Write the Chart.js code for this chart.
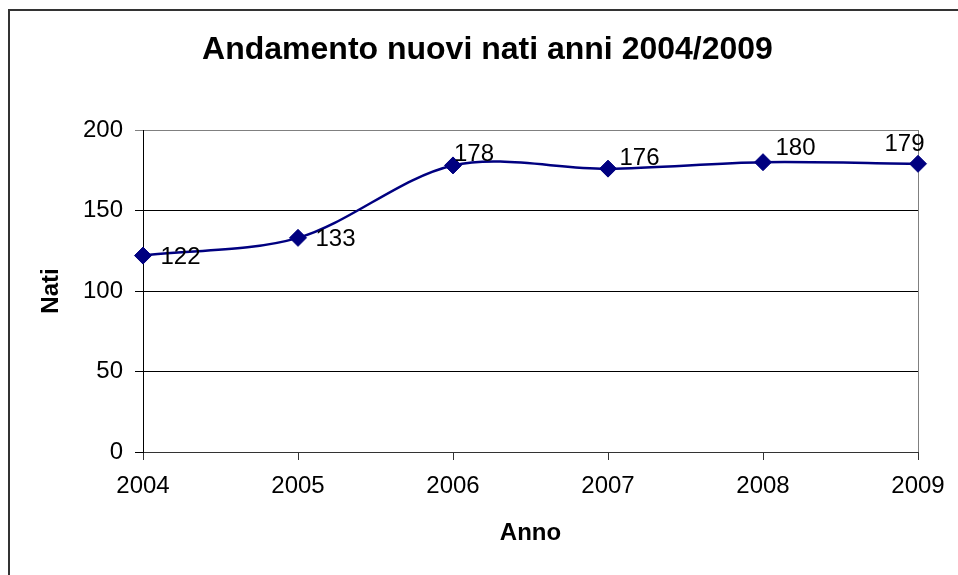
<!DOCTYPE html>
<html>
<head>
<meta charset="utf-8">
<script src="https://cdn.jsdelivr.net/npm/chart.js@4"></script>
<style>
  html, body { margin: 0; padding: 0; background: #ffffff; }
  #wrap { width: 958px; height: 575px; position: relative; }
</style>
</head>
<body>
<div id="wrap"><canvas id="c" width="958" height="575"></canvas></div>
<script>
// ---- data ----
const years = ['2004', '2005', '2006', '2007', '2008', '2009'];
const births = [122, 133, 178, 176, 180, 179];
const yTicks = [0, 50, 100, 150, 200];
const chartTitle = 'Andamento nuovi nati anni 2004/2009';
const xTitle = 'Anno';
const yTitle = 'Nati';

// ---- style ----
const FONT = "'Liberation Sans', Arial, sans-serif";
const NAVY = '#000080';
// per-label placement (text centre offset from its point, left-aligned)
const labelOffsets = [[17.5, -0.5], [17.5, 0], [1, -13], [11.5, -12.5], [12.5, -16], [-33.5, -21]];

const framePlugin = {
  id: 'frame',
  beforeDraw(chart) {
    const ctx = chart.ctx;
    ctx.save();
    ctx.fillStyle = '#ffffff';
    ctx.fillRect(0, 0, chart.width, chart.height);
    ctx.fillStyle = '#333333';
    ctx.fillRect(8, 9, chart.width - 8, 2);
    ctx.fillRect(8, 9, 2, chart.height - 9);
    ctx.restore();
  },
  afterDraw(chart) {
    const ctx = chart.ctx;
    ctx.save();
    ctx.fillStyle = '#000000';
    ctx.font = 'bold 32px ' + FONT;
    ctx.textAlign = 'center';
    ctx.textBaseline = 'alphabetic';
    ctx.fillText(chartTitle, 487.5, 58.5);
    ctx.restore();
  }
};

const labelPlugin = {
  id: 'pointLabels',
  afterDatasetsDraw(chart) {
    const ctx = chart.ctx;
    const meta = chart.getDatasetMeta(0);
    ctx.save();
    ctx.fillStyle = '#000000';
    ctx.font = '24px ' + FONT;
    ctx.textAlign = 'left';
    ctx.textBaseline = 'alphabetic';
    meta.data.forEach((pt, i) => {
      const off = labelOffsets[i] || [10, 0];
      ctx.fillText(String(births[i]), pt.x + off[0], pt.y + off[1] + 8.6);
    });
    ctx.restore();
  }
};

new Chart(document.getElementById('c'), {
  type: 'line',
  data: {
    labels: years,
    datasets: [{
      data: births,
      borderColor: NAVY,
      backgroundColor: NAVY,
      borderWidth: 2.5,
      tension: 0.32,
      pointStyle: 'rectRot',
      pointRadius: 8.5,
      pointBorderWidth: 1,
      pointBackgroundColor: NAVY,
      pointBorderColor: NAVY,
      clip: false
    }]
  },
  options: {
    responsive: false,
    animation: false,
    devicePixelRatio: 1,
    layout: { padding: { left: 0, right: 40, top: 130, bottom: 0 } },
    plugins: {
      legend: { display: false },
      title: { display: false },
      tooltip: { enabled: false }
    },
    scales: {
      x: {
        type: 'category',
        offset: false,
        grid: {
          drawOnChartArea: true,
          color: (c) => (c.index === years.length - 1 ? '#808080' : 'rgba(0,0,0,0)'),
          tickColor: '#333333',
          tickLength: 8,
          lineWidth: 1
        },
        border: { display: true, color: '#333333', width: 1 },
        ticks: {
          color: '#000000',
          font: { family: FONT, size: 24 },
          padding: 12,
          maxRotation: 0,
          autoSkip: false
        },
        title: {
          display: true,
          text: xTitle,
          color: '#000000',
          font: { family: FONT, size: 24, weight: 'bold' },
          padding: { top: 0, bottom: 27 }
        },
        afterFit(scale) { scale.height = 123; }
      },
      y: {
        min: 0,
        max: 200,
        afterBuildTicks(scale) { scale.ticks = yTicks.map(v => ({ value: v })); },
        grid: {
          color: (c) => (c.tick && c.tick.value === 200 ? '#808080' : '#000000'),
          tickColor: (c) => (c.tick && c.tick.value === 200 ? '#808080' : '#000000'),
          tickLength: 8,
          lineWidth: 1
        },
        border: { display: true, color: '#000000', width: 1 },
        ticks: {
          color: '#000000',
          font: { family: FONT, size: 24 },
          padding: 12
        },
        title: {
          display: true,
          text: yTitle,
          color: '#000000',
          font: { family: FONT, size: 24, weight: 'bold' },
          padding: { top: 37, bottom: 0 }
        },
        afterFit(scale) { scale.width = 143; }
      }
    }
  },
  plugins: [framePlugin, labelPlugin]
});
</script>
</body>
</html>
